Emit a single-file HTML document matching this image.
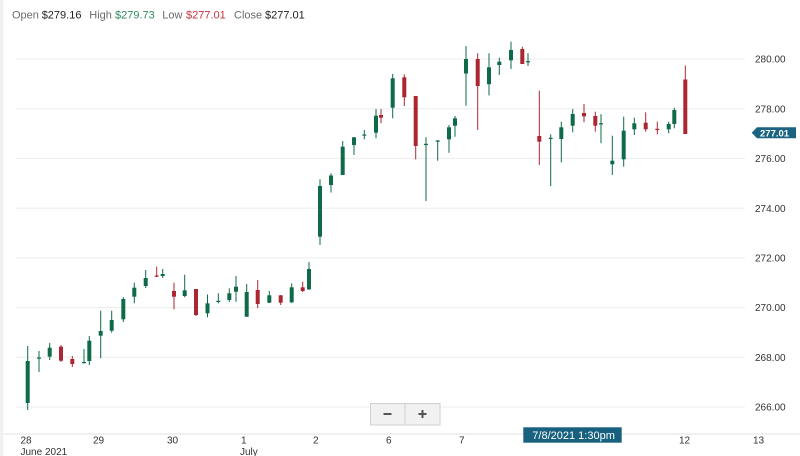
<!DOCTYPE html>
<html><head><meta charset="utf-8"><style>
html,body{margin:0;padding:0;background:#fff;}
svg{display:block;font-family:"Liberation Sans",Arial,sans-serif;}
</style></head><body>
<svg id="c" width="800" height="456" viewBox="0 0 800 456" xmlns="http://www.w3.org/2000/svg">
<rect x="0" y="0" width="800" height="456" fill="#fff"/>
<rect x="0" y="0" width="3.5" height="456" fill="#f1f1f1"/>
<g font-size="11">
<text x="12" y="18.3" fill="#6b6b6b">Open</text>
<text x="41.7" y="18.3" fill="#222">$279.16</text>
<text x="89.3" y="18.3" fill="#6b6b6b">High</text>
<text x="115" y="18.3" fill="#2f8a5c">$279.73</text>
<text x="162.3" y="18.3" fill="#6b6b6b">Low</text>
<text x="186" y="18.3" fill="#c8323d">$277.01</text>
<text x="234" y="18.3" fill="#6b6b6b">Close</text>
<text x="265" y="18.3" fill="#222">$277.01</text>
</g>
<g stroke="#ededed" stroke-width="1">
<line x1="16" y1="59" x2="745" y2="59"/>
<line x1="16" y1="108.7" x2="745" y2="108.7"/>
<line x1="16" y1="158.4" x2="745" y2="158.4"/>
<line x1="16" y1="208.2" x2="745" y2="208.2"/>
<line x1="16" y1="257.9" x2="745" y2="257.9"/>
<line x1="16" y1="307.6" x2="745" y2="307.6"/>
<line x1="16" y1="357.3" x2="745" y2="357.3"/>
<line x1="16" y1="407" x2="745" y2="407"/>
</g>
<line x1="4" y1="434" x2="800" y2="434" stroke="#e2e2e2" stroke-width="1"/>
<g font-size="10" fill="#333">
<text x="755" y="62.6">280.00</text>
<text x="755" y="112.3">278.00</text>
<text x="755" y="162">276.00</text>
<text x="755" y="211.8">274.00</text>
<text x="755" y="261.5">272.00</text>
<text x="755" y="311.2">270.00</text>
<text x="755" y="360.9">268.00</text>
<text x="755" y="410.6">266.00</text>
</g>
<path d="M751.7 132.8 L757 127.3 L796 127.3 L796 138.3 L757 138.3 Z" fill="#1b6382"/>
<text x="760" y="136.6" font-size="9.5" fill="#fff" font-weight="bold">277.01</text>
<g font-size="10" fill="#333">
<text x="20.5" y="443.5">28</text>
<text x="93" y="443.5">29</text>
<text x="167" y="443.5">30</text>
<text x="241" y="443.5">1</text>
<text x="313" y="443.5">2</text>
<text x="386" y="443.5">6</text>
<text x="459" y="443.5">7</text>
<text x="679" y="443.5">12</text>
<text x="753" y="443.5">13</text>
<text x="20.5" y="455">June 2021</text>
<text x="240" y="455">July</text>
</g>
<rect x="523.3" y="427.3" width="98.4" height="15.4" fill="#17617f"/>
<text x="532.3" y="438.8" font-size="11" fill="#fff">7/8/2021 1:30pm</text>
<rect x="370.5" y="403.5" width="69.5" height="21.5" fill="#f1f1f1" stroke="#cfcfcf" stroke-width="1"/>
<line x1="405" y1="403.5" x2="405" y2="425" stroke="#cfcfcf" stroke-width="1"/>
<rect x="383.5" y="413" width="8" height="2" fill="#555"/>
<rect x="418.5" y="413" width="8" height="2" fill="#555"/>
<rect x="421.5" y="410" width="2" height="8" fill="#555"/>
<g id="k"></g>
</svg>
<script>
var D=[
[27.7,0,361,403,346,410],[39,0,357.5,358.7,351,372],[49.7,0,347.7,356.7,343,360],[61,1,346.7,360.7,345,362],
[72.3,1,359,364,356,367],[84,0,362,363.2,349,363.5],[89.3,0,340.7,361,336,365],[100.7,0,331,335.7,310.7,358.3],
[111.7,0,320,330.7,310.7,332.7],[123.3,0,299,319.3,297,322],[134.3,0,287.7,296.7,282.7,303.3],[145.7,0,278,286,270,288],
[156.7,1,275.5,276.7,266.7,277],[162.7,0,274,276,269,278],[174,1,291,296.7,282.7,309.3],[184.7,0,290.3,296,274.7,297.3],
[196,1,289,315,289,316],[207.5,0,303.3,313.3,294.5,317.3],[218.3,0,300.8,302,293.3,303.3],[229.3,0,293.3,300,288.3,302],
[236,0,286.7,291.7,276,301.7],[246.7,0,292,316.7,284,317],[257.7,1,290,304,280,308.3],[269.3,0,295.3,302.7,291,303],
[280.7,1,295.3,302.7,295,305],[291.7,0,287.3,302.3,283.3,303],[302.7,1,287.3,291,281.7,292],[309,0,269,289.3,262,290],
[320,0,186,236.7,179.3,245],[331,0,175.5,185,173.3,192.5],[342.7,0,146.7,175,141,175],[354,0,137.3,145,137,155],
[364.3,0,134.5,135.7,130,139.3],[376,0,115.7,132.7,109,138.3],[381,1,115,117.7,109,123.3],[392.7,0,78.3,107.7,74,118.3],
[404.3,1,77.3,97.3,74.3,106],[415.7,1,96,146,96,159.3],[426,0,143.8,145,137.3,201],[437.7,0,140.5,141.7,140,160.7],
[449,0,127.3,139.3,125,152.7],[455,0,118.3,125.7,116,136.7],[466,0,59,73.5,46,105.7],[477.7,1,59,86,53.3,130],
[489,0,67.3,84.2,53.3,95.5],[499.3,0,61.7,65,57.7,75],[511,0,50,60.3,41.7,69],[522.3,1,49,64,46.7,64],
[528,0,61.2,62.4,53.3,66],[539.3,1,136,141.7,90.7,165],[550.7,0,137.8,139,134.3,186],[561.3,0,127.3,139,121.7,162.3],
[572.7,0,114,125.7,109,132.3],[584,1,113,116.3,104,122.3],[595.3,1,116,125.7,111.7,131.7],[601,0,123.2,124.4,114.3,143.3],
[612.3,0,160.7,164.3,135.7,175],[623.7,0,130.7,159.3,116.7,166.7],[634.3,0,123.3,129.3,117.7,135],[645.7,1,122.7,129.3,112.3,131.7],
[657.3,1,128.8,130,121.7,134.3],[668.7,0,124,129.3,121.7,133.3],[674.3,0,110,124,107.7,128.3],[685.3,1,79.5,134,65.5,134]
];
var ns="http://www.w3.org/2000/svg",g=document.getElementById("k");
D.forEach(function(d){
var col=d[1]?"#ab2631":"#0f6b47";
var l=document.createElementNS(ns,"line");
l.setAttribute("x1",d[0]);l.setAttribute("x2",d[0]);l.setAttribute("y1",d[4]);l.setAttribute("y2",d[5]);
l.setAttribute("stroke",col);l.setAttribute("stroke-width","1");g.appendChild(l);
var r=document.createElementNS(ns,"rect");
r.setAttribute("x",d[0]-2);r.setAttribute("y",d[2]);r.setAttribute("width",4);r.setAttribute("height",Math.max(1.2,d[3]-d[2]));
r.setAttribute("fill",col);g.appendChild(r);
});
</script>
</body></html>
